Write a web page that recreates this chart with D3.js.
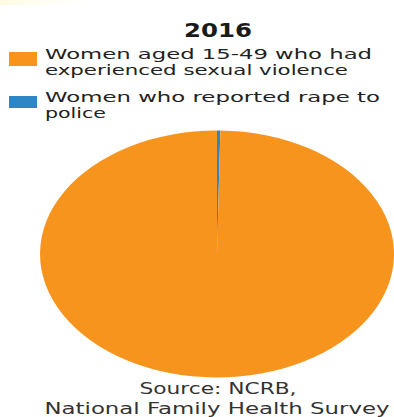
<!DOCTYPE html>
<html>
<head>
<meta charset="utf-8">
<script src="https://cdn.jsdelivr.net/npm/d3@7"></script>
<style>
  html, body { margin: 0; padding: 0; background: #fff; }
  svg { display: block; }
</style>
</head>
<body>
<div id="chart"></div>
<script>
// Chart data
const title = "2016";
const categories = [
  ["Women aged 15-49 who had", "experienced sexual violence"],
  ["Women who reported rape to", "police"]
];
const values = [99.7, 0.3];
const colors = ["#f7941d", "#2f86c6"];
const sourceLines = ["Source: NCRB,", "National Family Health Survey"];

const W = 394, H = 417;
const svg = d3.select("#chart").append("svg")
  .attr("width", W).attr("height", H)
  .attr("font-family", "'DejaVu Sans', sans-serif");

// faint warm band along the top-left edge
const defs = svg.append("defs");
const grad = defs.append("linearGradient").attr("id", "topband")
  .attr("x1", "0").attr("x2", "1").attr("y1", "0").attr("y2", "0");
grad.append("stop").attr("offset", "0").attr("stop-color", "#fffbe0");
grad.append("stop").attr("offset", "1").attr("stop-color", "#ffffff").attr("stop-opacity", 0);
svg.append("rect").attr("x", 0).attr("y", 0).attr("width", 110).attr("height", 5)
  .attr("fill", "url(#topband)");

// Title
svg.append("text")
  .attr("x", 218).attr("y", 37)
  .attr("text-anchor", "middle")
  .attr("font-size", 20).attr("font-weight", 900)
  .attr("fill", "#1a1a1a")
  .attr("textLength", 68).attr("lengthAdjust", "spacingAndGlyphs")
  .text(title);

// Legend
const legendRows = [
  { y: 52, h: 14, base: [59, 75], widths: [327, 303] },
  { y: 96, h: 12, base: [102, 118], widths: [335, 61] }
];
categories.forEach((lines, i) => {
  const row = legendRows[i];
  svg.append("rect")
    .attr("x", 9).attr("y", row.y).attr("width", 28).attr("height", row.h)
    .attr("fill", colors[i]);
  lines.forEach((t, j) => {
    svg.append("text")
      .attr("x", 45).attr("y", row.base[j])
      .attr("font-size", 13.5)
      .attr("fill", "#222")
      .attr("textLength", row.widths[j]).attr("lengthAdjust", "spacingAndGlyphs")
      .text(t);
  });
});

// Pie (drawn as a horizontally stretched ellipse)
const cx = 217, cy = 254, rx = 177, ry = 123.5;
const pie = d3.pie().sort(null).value(d => d.value);
// reported slice starts at twelve o'clock and runs clockwise
const order = [1, 0];
const arcsData = pie(order.map(i => ({ value: values[i], color: colors[i] })));
const arc = d3.arc().innerRadius(0).outerRadius(rx);
svg.append("g")
  .attr("transform", `translate(${cx},${cy}) scale(1,${ry / rx})`)
  .selectAll("path")
  .data(arcsData)
  .join("path")
  .attr("d", arc)
  .attr("fill", d => d.data.color);

// Source
svg.append("text")
  .attr("x", 218).attr("y", 394)
  .attr("text-anchor", "middle")
  .attr("font-size", 16).attr("fill", "#333")
  .attr("textLength", 157).attr("lengthAdjust", "spacingAndGlyphs")
  .text(sourceLines[0]);
svg.append("text")
  .attr("x", 217).attr("y", 414)
  .attr("text-anchor", "middle")
  .attr("font-size", 16).attr("fill", "#333")
  .attr("textLength", 345).attr("lengthAdjust", "spacingAndGlyphs")
  .text(sourceLines[1]);
</script>
</body>
</html>
